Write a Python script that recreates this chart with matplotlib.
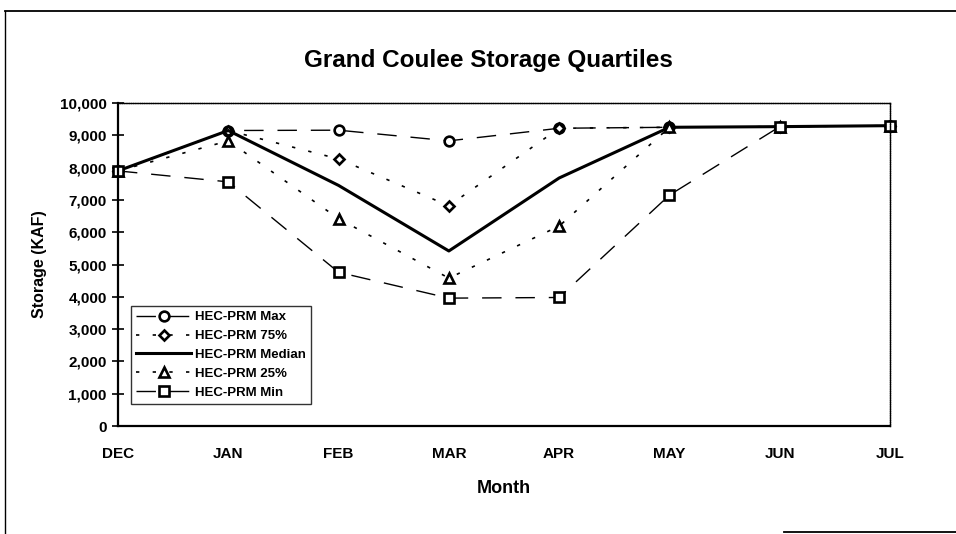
import matplotlib.pyplot as plt
from matplotlib.lines import Line2D
from matplotlib.ticker import FuncFormatter

plt.rcParams['font.family'] = ['Liberation Sans', 'DejaVu Sans']
plt.rcParams['font.weight'] = 'bold'

months = ["DEC", "JAN", "FEB", "MAR", "APR", "MAY", "JUN", "JUL"]
hec_max = [7900, 9150, 9160, 8830, 9220, 9250, 9270, 9300]
hec_75 = [7900, 9150, 8270, 6820, 9220, 9250, 9270, 9300]
hec_median = [7900, 9150, 7450, 5420, 7680, 9250, 9270, 9300]
hec_25 = [7900, 8830, 6420, 4580, 6190, 9250, 9270, 9300]
hec_min = [7900, 7560, 4760, 3960, 3980, 7150, 9270, 9300]

fig = plt.figure(figsize=(9.56, 5.34), dpi=100)
ax = fig.add_axes([0.1234, 0.2022, 0.8076, 0.6048])

x = range(len(months))
mk = dict(markerfacecolor="white", markeredgecolor="black", markeredgewidth=1.9,
          color="black", clip_on=False)

ax.plot(x, hec_max, marker="o", markersize=7, linewidth=1.0, dashes=(14, 10),
        label="HEC-PRM Max", **mk)
ax.plot(x, hec_75, marker="D", markersize=5, linewidth=1.2, dashes=(2, 8),
        label="HEC-PRM 75%", **mk)
ax.plot(x, hec_median, linewidth=2.2, color="black", label="HEC-PRM Median",
        clip_on=False)
ax.plot(x, hec_25, marker="^", markersize=7, linewidth=1.2, dashes=(2, 8),
        label="HEC-PRM 25%", **mk)
ax.plot(x, hec_min, marker="s", markersize=7, linewidth=1.0, dashes=(14, 10),
        label="HEC-PRM Min", **mk)

ax.set_xlim(0, 7)
ax.set_ylim(0, 10000)
ax.set_xticks(list(x))
ax.set_xticklabels(months)
ax.set_yticks(range(0, 10001, 1000))
ax.yaxis.set_major_formatter(FuncFormatter(lambda v, p: f"{int(v):,}"))
ax.tick_params(axis="y", direction="inout", length=8, width=1.2, labelsize=11, pad=4)
ax.tick_params(axis="x", length=0, labelsize=11, pad=15)

for s in ["left", "bottom"]:
    ax.spines[s].set_linewidth(1.6)
for s in ["top", "right"]:
    ax.spines[s].set_linewidth(1.0)
    ax.spines[s].set_linestyle((0, (1, 0.6)))

fig.text(0.511, 1 - 61 / 534, "Grand Coulee Storage Quartiles", fontsize=17.5,
         fontweight="bold", ha="center", va="center")
ax.set_xlabel("Month", fontsize=13, fontweight="bold", labelpad=14)
ax.set_ylabel("Storage (KAF)", fontsize=11.5, fontweight="bold", labelpad=9)

leg = ax.legend(loc="lower left", bbox_to_anchor=(0.013, 0.06), fontsize=9.5,
                frameon=True, fancybox=False, handlelength=4.2, borderpad=0.4,
                labelspacing=0.5, handletextpad=0.3, borderaxespad=0.2)
leg.get_frame().set_edgecolor("black")
leg.get_frame().set_linewidth(1.0)

# scanned page border
fig.add_artist(Line2D([0.005, 1.0], [0.98, 0.98], transform=fig.transFigure,
                      color="black", linewidth=1.3))
fig.add_artist(Line2D([0.005, 0.005], [0.0, 0.98], transform=fig.transFigure,
                      color="black", linewidth=1.0))
fig.add_artist(Line2D([0.82, 1.0], [0.004, 0.004], transform=fig.transFigure,
                      color="black", linewidth=1.3))

fig.savefig("out.png", dpi=100)
